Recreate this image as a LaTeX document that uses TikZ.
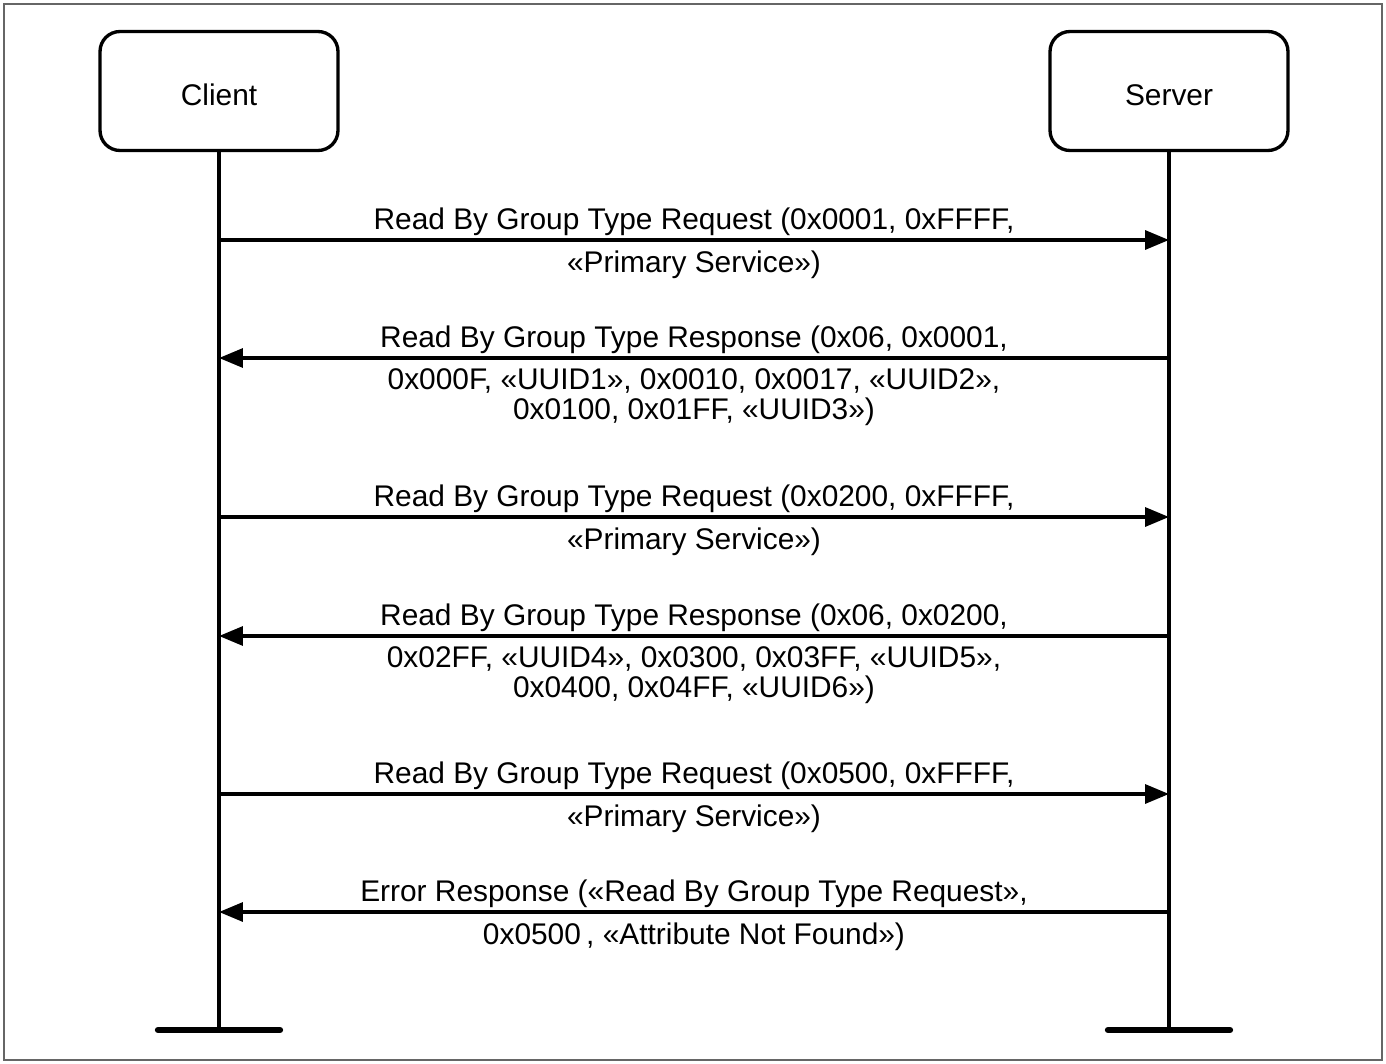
\documentclass[tikz,border=0pt]{standalone}
\usepackage{fontspec}
\setmainfont{Liberation Sans}
\usetikzlibrary{arrows.meta}
\begin{document}
\begin{tikzpicture}[x=0.02cm,y=-0.02cm,
  party/.style={draw,line width=1.9pt,rounded corners=0.4cm,minimum width=4.76cm,minimum height=2.38cm,
    text height=16.6pt,text depth=0pt,font=\fontsize{17}{17.1}\selectfont},
  life/.style={line width=1.9pt},
  bar/.style={line width=3.6pt,line cap=round},
  msg/.style={line width=1.9pt,-{Triangle[length=0.48cm,width=0.38cm]}},
  txt/.style={font=\fontsize{17}{17.1}\selectfont,align=center,inner sep=0pt}]
  \useasboundingbox (0,0) rectangle (1386,1064);
  \draw[black!60,line width=0.6pt] (4,4) rectangle (1382,1060);
  % the two parties
  \node[party] (client) at (219,91) {Client};
  \node[party] (server) at (1169,91) {Server};
  \coordinate (cend) at (219,1030);
  \coordinate (send) at (1169,1030);
  \draw[life] (client) -- (cend);
  \draw[life] (server) -- (send);
  \draw[bar] (cend) ++(-61,0) -- ++(122,0);
  \draw[bar] (send) ++(-61,0) -- ++(122,0);
  % message levels
  \foreach \i/\y in {1/240,2/358,3/517,4/636,5/794,6/912} {
    \coordinate (c\i) at (219,\y);
    \coordinate (s\i) at (1169,\y);
  }
  \draw[msg] (c1) -- node[txt,above=1.4pt] {Read By Group Type Request (0x0001, 0xFFFF,}
    node[txt,below=5pt] {«Primary Service»)} (s1);
  \draw[msg] (s2) -- node[txt,above=1.4pt] {Read By Group Type Response (0x06, 0x0001,}
    node[txt,below=5pt] {0x000F, «UUID1», 0x0010, 0x0017, «UUID2»,\\0x0100, 0x01FF, «UUID3»)} (c2);
  \draw[msg] (c3) -- node[txt,above=1.4pt] {Read By Group Type Request (0x0200, 0xFFFF,}
    node[txt,below=5pt] {«Primary Service»)} (s3);
  \draw[msg] (s4) -- node[txt,above=1.4pt] {Read By Group Type Response (0x06, 0x0200,}
    node[txt,below=5pt] {0x02FF, «UUID4», 0x0300, 0x03FF, «UUID5»,\\0x0400, 0x04FF, «UUID6»)} (c4);
  \draw[msg] (c5) -- node[txt,above=1.4pt] {Read By Group Type Request (0x0500, 0xFFFF,}
    node[txt,below=5pt] {«Primary Service»)} (s5);
  \draw[msg] (s6) -- node[txt,above=1.4pt] {Error Response («Read By Group Type Request»,}
    node[txt,below=5pt] {0x0500\kern3pt, «Attribute Not Found»)} (c6);
\end{tikzpicture}
\end{document}
